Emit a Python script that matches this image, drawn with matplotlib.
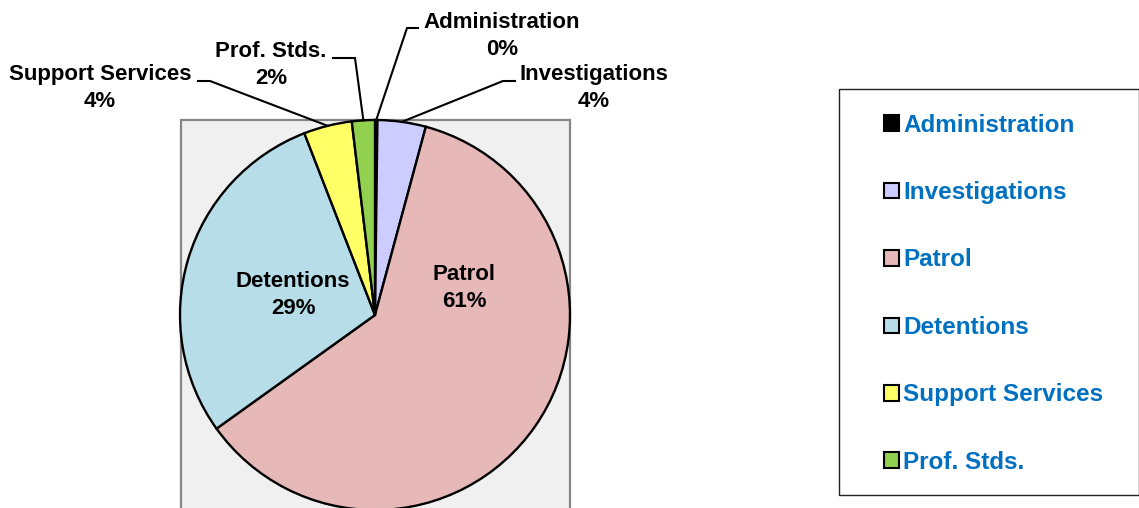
import matplotlib
matplotlib.use("Agg")
import matplotlib.pyplot as plt
from matplotlib.patches import Rectangle, Patch
import numpy as np

# ---- data ----
categories = ["Administration", "Investigations", "Patrol", "Detentions",
              "Support Services", "Prof. Stds."]
shares = [0.2, 4.0, 60.9, 29.0, 4.0, 1.9]
colors = ["#000000", "#CCCCFF", "#E6B8B7", "#B7DEE8", "#FFFF66", "#92D050"]

plt.rcParams['font.family'] = ['Liberation Sans', 'DejaVu Sans']

W, H = 1139, 508
fig = plt.figure(figsize=(W / 100, H / 100), dpi=100)
ax = fig.add_axes([0, 0, 1, 1])


def py(y):
    """pixel row (from top) -> data y"""
    return H - y


cx, cy, r = 375, py(315), 195

# plot-area background
ax.add_patch(Rectangle((181, -20), 389, py(120) + 20, facecolor="#F0F0F0",
                       edgecolor="#868686", lw=1.6, zorder=0))

wedges, _ = ax.pie(shares, colors=colors, startangle=90, counterclock=False,
                   center=(cx, cy), radius=r, frame=True,
                   wedgeprops=dict(edgecolor="black", linewidth=1.7))
for w in wedges:
    w.set_zorder(2)

ax.set_xlim(0, W)
ax.set_ylim(0, H)
ax.set_aspect('auto')
ax.axis('off')

total = sum(shares)
pct_labels = [f"{round(v / total * 100):.0f}%" for v in shares]

# label layout: (center x, last-line baseline row) and leader elbow / end (or None)
label_pos = {
    "Administration": ((502, 55), ((407, 28), (418, 28))),
    "Investigations": ((594, 107), ((503, 81), (515, 81))),
    "Patrol": ((464, 307), None),
    "Detentions": ((293, 314), None),
    "Support Services": ((100, 107), ((210, 81), (198, 81))),
    "Prof. Stds.": ((271, 84), ((355, 58), (333, 58))),
}

for w, name, pct in zip(wedges, categories, pct_labels):
    (tx, ty), leader = label_pos[name]
    ax.text(tx, py(ty), f"{name}\n{pct}", ha="center", va="baseline",
            fontsize=16, fontweight="bold", color="black", linespacing=1.36,
            zorder=5)
    if leader is not None:
        mid = np.deg2rad((w.theta1 + w.theta2) / 2)
        x0, y0 = cx + r * np.cos(mid), cy + r * np.sin(mid)
        (ex, ey), (hx, hy) = leader
        ax.plot([x0, ex, hx], [y0, py(ey), py(hy)], color="black", lw=1.5,
                solid_joinstyle="miter", zorder=4)

# legend frame
ax.add_patch(Rectangle((839, py(495)), 299.5, 406, facecolor="white",
                       edgecolor="#222222", lw=1.0, zorder=3))

handles = [Patch(facecolor=c, edgecolor="black", lw=1.5) for c in colors]
leg = ax.legend(handles, categories, loc="upper left",
                bbox_to_anchor=(884, py(113.5)), bbox_transform=ax.transData,
                frameon=False, borderpad=0, borderaxespad=0,
                handlelength=0.62, handleheight=0.62, handletextpad=0.17,
                labelspacing=1.83, prop=dict(weight="bold", size=17.5))
for t in leg.get_texts():
    t.set_color("#0070C0")
leg.set_zorder(6)

fig.savefig("out.png", dpi=100, facecolor="white")
